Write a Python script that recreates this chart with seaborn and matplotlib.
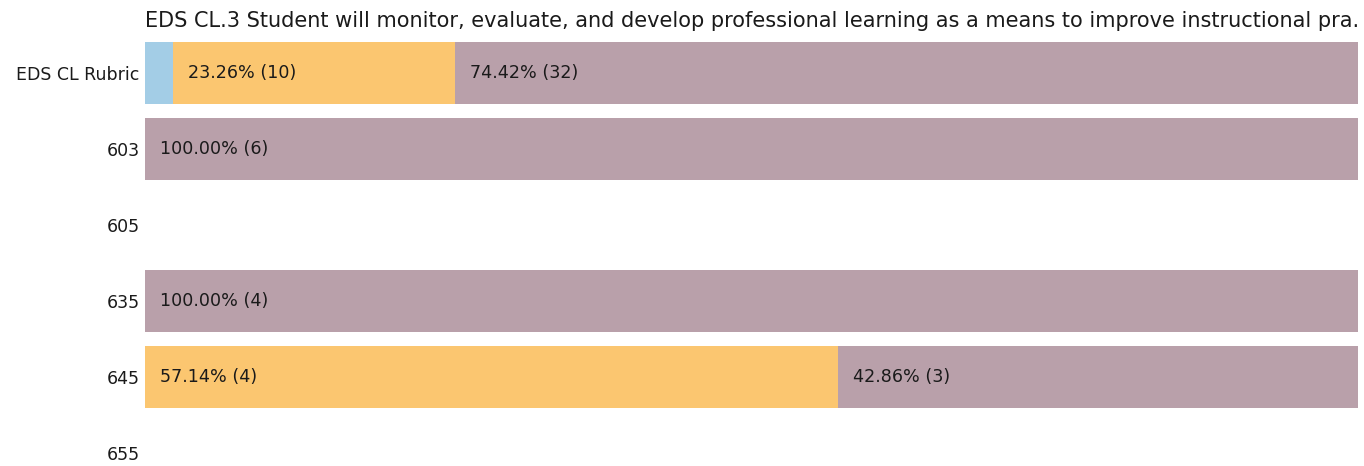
import matplotlib
matplotlib.use("Agg")
import matplotlib.pyplot as plt
import seaborn as sns
import pandas as pd
import numpy as np

categories = ["EDS CL Rubric", "603", "605", "635", "645", "655"]
series_names = ["Level 1", "Level 2", "Level 3"]
counts_1 = [1, 0, 0, 0, 0, 0]
counts_2 = [10, 0, 0, 0, 4, 0]
counts_3 = [32, 6, 0, 4, 3, 0]
colors = ["#a3cde6", "#fbc670", "#b9a0aa"]
title = "EDS CL.3 Student will monitor, evaluate, and develop professional learning as a means to improve instructional pra."

sns.set_theme(style="white")
plt.rcParams['font.family'] = ['DejaVu Sans']

counts = np.array([counts_1, counts_2, counts_3], dtype=float)
totals = counts.sum(axis=0)
pct = np.where(totals > 0, counts / np.where(totals > 0, totals, 1) * 100, 0)
cum = np.cumsum(pct, axis=0)

fig = plt.figure(figsize=(13.64, 4.66), dpi=100)
ax = fig.add_axes([145 / 1364, (466 - 491) / 466, (1358 - 145) / 1364, 456 / 466])

# draw cumulative layers from the top series down
for i in range(2, -1, -1):
    df = pd.DataFrame({"cat": categories, "val": cum[i]})
    sns.barplot(data=df, x="val", y="cat", order=categories, color=colors[i],
                saturation=1, width=0.82, ax=ax, orient="h", linewidth=0)

for i in range(3):
    left = cum[i] - pct[i]
    for j, cat in enumerate(categories):
        if pct[i, j] >= 5:
            ax.text(left[j] + 1.25, j, f"{pct[i, j]:.2f}% ({int(counts[i, j])})",
                    va="center", ha="left", fontsize=12.6, color="#1a1a1a")

ax.set_xlim(0, 100)
ax.set_ylim(5.5, -0.5)
ax.set_xlabel("")
ax.set_ylabel("")
ax.set_xticks([])
ax.tick_params(axis="y", length=0, pad=4, labelsize=12.5, labelcolor="#1a1a1a")
for s in ax.spines.values():
    s.set_visible(False)
ax.set_title(title, loc="left", fontsize=15, pad=6, color="#1a1a1a")

fig.savefig("out.png", dpi=100)
